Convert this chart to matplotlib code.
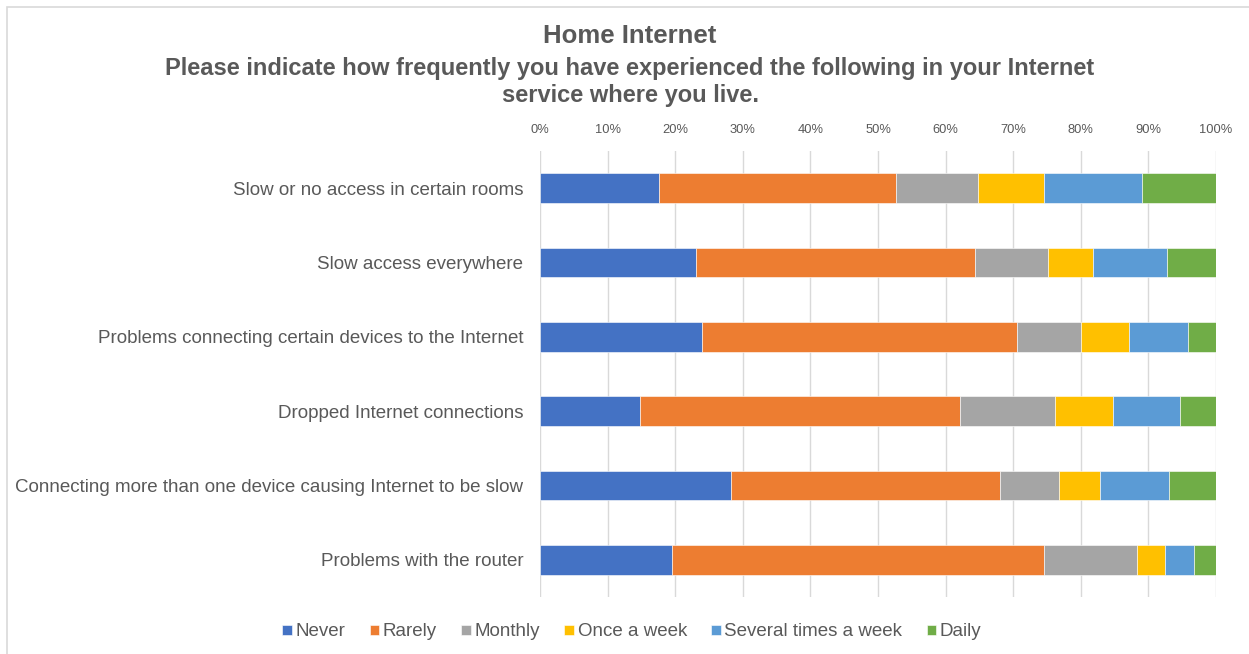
import matplotlib
matplotlib.use("Agg")
import matplotlib.pyplot as plt
from matplotlib.patches import Rectangle
import numpy as np

plt.rcParams['font.family'] = ['Liberation Sans', 'DejaVu Sans']

categories = [
    "Slow or no access in certain rooms",
    "Slow access everywhere",
    "Problems connecting certain devices to the Internet",
    "Dropped Internet connections",
    "Connecting more than one device causing Internet to be slow",
    "Problems with the router",
]
series_names = ["Never", "Rarely", "Monthly", "Once a week", "Several times a week", "Daily"]
never = [17.6, 23.1, 23.9, 14.8, 28.3, 19.5]
rarely = [35.1, 41.2, 46.6, 47.4, 39.7, 55.0]
monthly = [12.1, 10.9, 9.5, 14.0, 8.8, 13.8]
once_a_week = [9.7, 6.6, 7.1, 8.6, 6.0, 4.2]
several_times_a_week = [14.5, 11.0, 8.7, 9.9, 10.3, 4.3]
daily = [11.0, 7.2, 4.2, 5.3, 6.9, 3.2]
tick_values = list(range(0, 101, 10))
tick_labels = [f"{v}%" for v in tick_values]

colors = ["#4472C4", "#ED7D31", "#A5A5A5", "#FFC000", "#5B9BD5", "#70AD47"]
text_color = "#595959"

fig = plt.figure(figsize=(12.49, 6.54), dpi=100)
W, H = 1249, 654

# outer chart frame (left and top edges visible)
fig.patches.append(Rectangle((7 / W, -0.1), 1.2, (H - 7) / H + 0.1,
                             transform=fig.transFigure, fill=False,
                             edgecolor="#D9D9D9", linewidth=1.2))

ax = fig.add_axes([540 / W, 1 - 597 / H, (1216 - 540) / W, (597 - 151) / H])

data = np.array([never, rarely, monthly, once_a_week, several_times_a_week, daily], dtype=float)
totals = data.sum(axis=0)
shares = data / totals * 100

y = np.arange(len(categories))
left = np.zeros(len(categories))
for name, vals, col in zip(series_names, shares, colors):
    ax.barh(y, vals, left=left, height=0.4, color=col, label=name, edgecolor="white", linewidth=0.4)
    left += vals

ax.set_xlim(0, 100)
ax.set_ylim(len(categories) - 0.5, -0.5)
ax.set_yticks(y)
ax.set_yticklabels(categories, fontsize=13.5, color=text_color)
ax.set_xticks(tick_values)
ax.set_xticklabels(tick_labels, fontsize=9.3, color=text_color)
ax.xaxis.tick_top()
ax.tick_params(axis="x", length=0, pad=11)
ax.tick_params(axis="y", length=0, pad=12)
ax.grid(axis="x", color="#D9D9D9", linewidth=1)
ax.set_axisbelow(True)
for s in ax.spines.values():
    s.set_visible(False)

fig.text(630 / W, 1 - 36 / H, "Home Internet", ha="center", va="center",
         fontsize=18.5, fontweight="bold", color=text_color)
fig.text(630 / W, 1 - 82 / H,
         "Please indicate how frequently you have experienced the following in your Internet\nservice where you live.",
         ha="center", va="center", fontsize=17, fontweight="bold", color=text_color,
         linespacing=1.2)

handles, labels = ax.get_legend_handles_labels()
fig.legend(handles, labels, loc="center", bbox_to_anchor=(632 / W, 1 - 632 / H),
           ncol=6, frameon=False, fontsize=13.5, handlelength=0.5, handleheight=0.5,
           handletextpad=0.2, columnspacing=1.3, labelcolor=text_color)

fig.savefig("out.png", dpi=100)
